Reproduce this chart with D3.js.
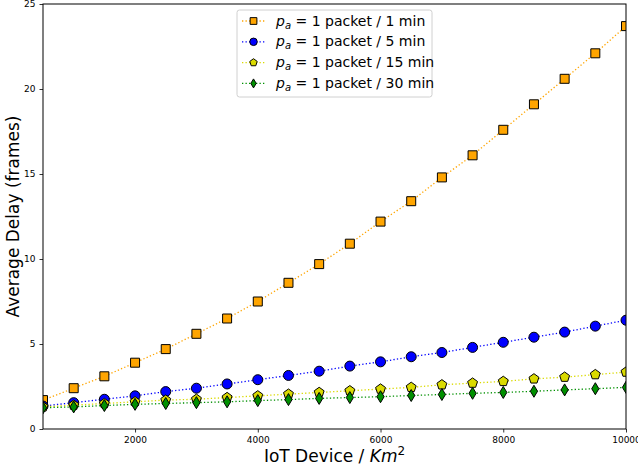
<!DOCTYPE html>
<html>
<head>
<meta charset="utf-8">
<script src="https://cdn.jsdelivr.net/npm/d3@7"></script>
<style>
  body { margin: 0; background: #fff; }
  svg { font-family: "DejaVu Sans", sans-serif; }
</style>
</head>
<body>
<svg id="chart"></svg>
<script>
const devices = [500, 1000, 1500, 2000, 2500, 3000, 3500, 4000, 4500, 5000,
  5500, 6000, 6500, 7000, 7500, 8000, 8500, 9000, 9500, 10000];
const delay1min = [1.7, 2.4, 3.1, 3.9, 4.7, 5.6, 6.5, 7.5, 8.6, 9.7,
  10.9, 12.2, 13.4, 14.8, 16.1, 17.6, 19.1, 20.6, 22.1, 23.7];
const delay5min = [1.35, 1.55, 1.75, 1.95, 2.2, 2.4, 2.65, 2.9, 3.15, 3.4,
  3.7, 3.95, 4.25, 4.5, 4.8, 5.1, 5.4, 5.7, 6.05, 6.4];
const delay15min = [1.3, 1.4, 1.5, 1.6, 1.7, 1.75, 1.85, 1.95, 2.05, 2.15,
  2.25, 2.35, 2.45, 2.6, 2.7, 2.8, 2.95, 3.05, 3.2, 3.35];
const delay30min = [1.25, 1.3, 1.38, 1.45, 1.5, 1.55, 1.6, 1.67, 1.73, 1.8,
  1.85, 1.9, 1.97, 2.03, 2.1, 2.15, 2.22, 2.3, 2.37, 2.45];
const seriesLabels = ["1 packet / 1 min", "1 packet / 5 min", "1 packet / 15 min", "1 packet / 30 min"];
const xTicks = [2000, 4000, 6000, 8000, 10000];
const yTicks = [0, 5, 10, 15, 20, 25];

const width = 638, height = 471;
const margin = { top: 4, right: 12, bottom: 42, left: 43 };
const plotW = width - margin.left - margin.right;
const plotH = height - margin.top - margin.bottom;

const svg = d3.select("#chart").attr("width", width).attr("height", height);

const x = d3.scaleLinear().domain([500, 10000]).range([0, plotW]);
const y = d3.scaleLinear().domain([0, 25]).range([plotH, 0]);

const g = svg.append("g").attr("transform", "translate(" + margin.left + "," + margin.top + ")");

g.append("clipPath").attr("id", "clip")
  .append("rect").attr("width", plotW).attr("height", plotH);

const styles = [
  { data: delay1min, color: "#ffa500", shape: "square" },
  { data: delay5min, color: "#0000ff", shape: "circle" },
  { data: delay15min, color: "#dada00", shape: "pentagon" },
  { data: delay30min, color: "#009000", shape: "diamond" },
];

const markerPath = (shape) => {
  if (shape === "square") return "M-4.5,-4.5H4.5V4.5H-4.5Z";
  if (shape === "circle") return d3.symbol().type(d3.symbolCircle).size(Math.PI * 25)();
  if (shape === "pentagon") {
    let pts = d3.range(5).map((i) => {
      let a = -Math.PI / 2 + i * 2 * Math.PI / 5;
      return [5.2 * Math.cos(a), 5.2 * Math.sin(a)];
    });
    return "M" + pts.join("L") + "Z";
  }
  return "M0,-6L3.6,0L0,6L-3.6,0Z";
};

const line = d3.line().x((d, i) => x(devices[i])).y((d) => y(d));

const plot = g.append("g").attr("clip-path", "url(#clip)");

styles.forEach((s) => {
  plot.append("path")
    .attr("d", line(s.data))
    .attr("fill", "none")
    .attr("stroke", s.color)
    .attr("stroke-width", 1.3)
    .attr("stroke-dasharray", "1.3,2.2");
});

styles.forEach((s) => {
  plot.selectAll(null)
    .data(s.data)
    .enter()
    .append("path")
    .attr("d", markerPath(s.shape))
    .attr("transform", (d, i) => "translate(" + x(devices[i]) + "," + y(d) + ")")
    .attr("fill", s.color)
    .attr("stroke", "#000")
    .attr("stroke-width", 1);
});

// axes
const xAxis = g.append("g").attr("transform", "translate(0," + plotH + ")")
  .call(d3.axisBottom(x).tickValues(xTicks).tickSize(3.5).tickPadding(4).tickFormat(d3.format("d")));
const yAxis = g.append("g")
  .call(d3.axisLeft(y).tickValues(yTicks).tickSize(3.5).tickPadding(4).tickFormat(d3.format("d")));
[xAxis, yAxis].forEach((a) => {
  a.select(".domain").remove();
  a.selectAll("text").attr("font-size", 9).attr("fill", "#000").attr("font-family", "DejaVu Sans");
  a.selectAll("line").attr("stroke", "#000").attr("stroke-width", 0.8);
});

g.append("rect")
  .attr("width", plotW).attr("height", plotH)
  .attr("fill", "none").attr("stroke", "#000").attr("stroke-width", 1);

// axis labels
svg.append("text")
  .attr("x", margin.left + plotW / 2)
  .attr("y", 462)
  .attr("text-anchor", "middle")
  .attr("font-size", 17)
  .html('IoT Device / <tspan font-style="italic">Km</tspan><tspan dy="-7" font-size="12">2</tspan>');

svg.append("text")
  .attr("transform", "translate(19," + (margin.top + plotH / 2) + ") rotate(-90)")
  .attr("text-anchor", "middle")
  .attr("font-size", 17)
  .text("Average Delay (frames)");

// legend
const legend = g.append("g").attr("transform", "translate(194,6)");
legend.append("rect")
  .attr("width", 195).attr("height", 87).attr("rx", 2.5)
  .attr("fill", "#fff").attr("fill-opacity", 0.8)
  .attr("stroke", "#d0d0d0").attr("stroke-width", 1);

const legendRow = legend.selectAll(".legend-row")
  .data(styles)
  .enter()
  .append("g")
  .attr("class", "legend-row")
  .attr("transform", (d, i) => "translate(0," + (11 + i * 20.8) + ")");

legendRow.append("line")
  .attr("x1", 5).attr("x2", 28)
  .attr("stroke", (d) => d.color)
  .attr("stroke-width", 1.3)
  .attr("stroke-dasharray", "1.3,2.2");
legendRow.append("path")
  .attr("d", (d) => markerPath(d.shape))
  .attr("transform", "translate(16.5,0) scale(0.75)")
  .attr("fill", (d) => d.color)
  .attr("stroke", "#000")
  .attr("stroke-width", 1.3);
legendRow.append("text")
  .attr("x", 39).attr("y", 4.5)
  .attr("font-size", 14)
  .html((d, i) => '<tspan font-style="italic">p</tspan><tspan font-style="italic" font-size="10" dy="3">a</tspan><tspan dy="-3"> = ' + seriesLabels[i] + '</tspan>');
</script>
</body>
</html>
